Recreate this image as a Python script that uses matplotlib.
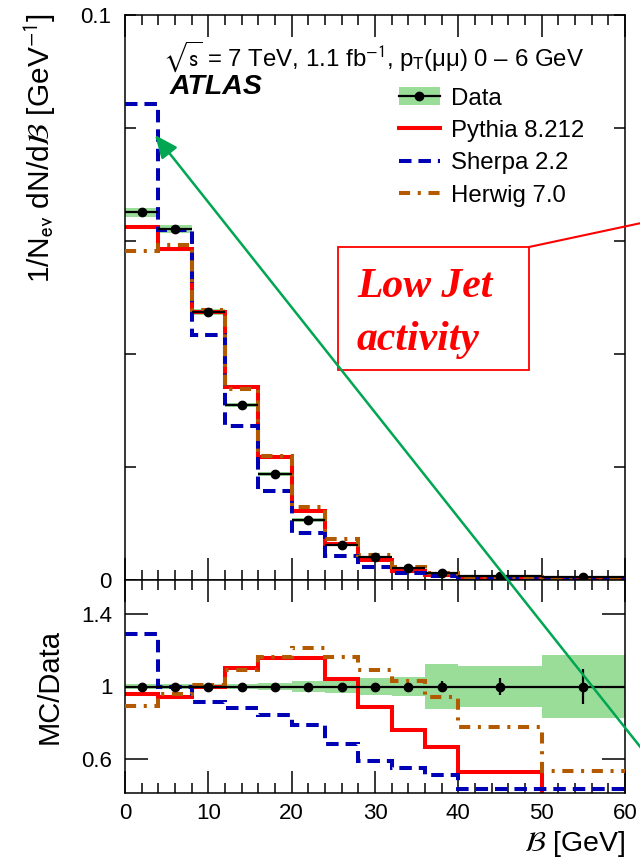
import matplotlib
matplotlib.use('Agg')
import matplotlib.pyplot as plt
from matplotlib.patches import Patch, Rectangle, FancyArrowPatch
from matplotlib.lines import Line2D
import numpy as np

# bin edges and normalised data (1/Nev dN/dB)
edges = [0, 4, 8, 12, 16, 20, 24, 28, 32, 36, 40, 50, 60]
data = [0.0651, 0.0621, 0.0474, 0.0310, 0.0188, 0.0106, 0.0062,
        0.0040, 0.0022, 0.0013, 0.0007, 0.0005]
# relative uncertainties of data (total band, stat bar)
band_rel = [0.012, 0.012, 0.012, 0.012, 0.018, 0.029, 0.036,
            0.045, 0.052, 0.123, 0.111, 0.176]
stat_rel = [0.004, 0.004, 0.005, 0.006, 0.008, 0.010, 0.013,
            0.017, 0.022, 0.030, 0.045, 0.097]
# MC / Data ratios
pythia_ratio = [0.959, 0.943, 1.000, 1.104, 1.159, 1.159, 1.039,
                0.887, 0.757, 0.665, 0.524, 0.300]
sherpa_ratio = [1.293, 0.998, 0.915, 0.880, 0.840, 0.785, 0.683,
                0.585, 0.548, 0.511, 0.430, 0.430]
herwig_ratio = [0.894, 0.956, 1.007, 1.091, 1.165, 1.215, 1.165,
                1.091, 1.030, 0.943, 0.776, 0.530]

labels = ['Data', 'Pythia 8.212', 'Sherpa 2.2', 'Herwig 7.0']

plt.rcParams['font.family'] = ['Liberation Sans', 'DejaVu Sans']
plt.rcParams['mathtext.fontset'] = 'stixsans'
plt.rcParams['lines.scale_dashes'] = False

W, H = 640, 859
def fx(x):
    return x / W
def fy(y):
    return 1 - y / H

edges = np.array(edges, dtype=float)
data = np.array(data)
band_rel = np.array(band_rel)
stat_rel = np.array(stat_rel)
centers = 0.5 * (edges[1:] + edges[:-1])
halfw = 0.5 * (edges[1:] - edges[:-1])

green = '#99dd99'
styles = [
    (np.array(pythia_ratio), dict(color='#ff0000', lw=2.9, ls='-')),
    (np.array(sherpa_ratio), dict(color='#0000b4', lw=2.9, ls=(0, (9, 5)))),
    (np.array(herwig_ratio), dict(color='#b35a00', lw=2.9, ls=(0, (8, 5.5, 2.2, 5.5)))),
]

fig = plt.figure(figsize=(6.4, 8.59), dpi=100)
ax = fig.add_axes([fx(125), fy(580), 500 / W, 565 / H])
rx = fig.add_axes([fx(125), fy(793), 500 / W, 213 / H])

# upper panel
ax.stairs(data * (1 + band_rel), edges, baseline=data * (1 - band_rel),
          fill=True, color=green, lw=0, zorder=1)
for i, (ratio, st) in enumerate(styles):
    ax.stairs(ratio * data, edges, baseline=None, zorder=2 + i, **st)
ax.errorbar(centers, data, xerr=halfw, yerr=stat_rel * data, fmt='o',
            color='black', ms=6, lw=1.6, capsize=0, zorder=6)

# ratio panel
rx.stairs(1 + band_rel, edges, baseline=1 - band_rel, fill=True,
          color=green, lw=0, zorder=1)
for i, (ratio, st) in enumerate(styles):
    rx.stairs(ratio, edges, baseline=None, zorder=2 + i, **st)
rx.errorbar(centers, np.ones_like(data), xerr=halfw, yerr=stat_rel,
            fmt='o', color='black', ms=6, lw=1.6, capsize=0, zorder=6)

for a in (ax, rx):
    a.set_xlim(0, 60)
    a.set_xticks(range(0, 61, 10))
    a.set_xticks(range(0, 61, 2), minor=True)
    a.tick_params(axis='both', which='both', direction='in', top=True, right=True)
    a.tick_params(axis='x', which='major', length=16, width=1.1)
    a.tick_params(axis='x', which='minor', length=7, width=1.1)
    for s in a.spines.values():
        s.set_linewidth(1.1)

ax.set_ylim(0, 0.1)
ax.set_yticks([0, 0.1])
ax.set_yticklabels(['0', '0.1'])
ax.set_yticks(np.arange(0.02, 0.1, 0.02), minor=True)
ax.tick_params(axis='y', which='both', length=8, width=1.1, labelsize=16, pad=10)
ax.tick_params(axis='x', labelbottom=False)

rx.set_ylim(0.41, 1.59)
rx.set_yticks([0.6, 1.0, 1.4])
rx.set_yticklabels(['0.6', '1', '1.4'])
rx.tick_params(axis='y', length=16.5, width=1.1, labelsize=16, pad=9)
rx.tick_params(axis='x', labelsize=16, pad=7)

# axis titles
fig.text(fx(58), fy(13), r'1/N$_{\mathrm{ev}}$ dN/d$\mathcal{B}$ [GeV$^{-1}$]',
         rotation=90, ha='right', va='top', fontsize=21.5)
fig.text(fx(64), fy(687), 'MC/Data', rotation=90, ha='right', va='center',
         fontsize=21)
fig.text(fx(625), fy(859), r'$\mathcal{B}$ [GeV]', ha='right', va='bottom',
         fontsize=20.5)

# labels
fig.text(fx(163), fy(57),
         r'$\sqrt{\mathrm{s}}$ = 7 TeV, 1.1 fb$^{-1}$, p$_{\mathrm{T}}$(μμ) 0 – 6 GeV',
         va='center', fontsize=17.3)
fig.text(fx(170), fy(87), 'ATLAS', fontsize=20.5, weight='bold', style='italic',
         va='center')

handles = [(Patch(facecolor=green, lw=0),
            Line2D([], [], color='black', lw=1.6, marker='o', ms=6))]
for ratio, st in styles:
    handles.append(Line2D([], [], **st))
ax.legend(handles, labels, loc='upper left', bbox_to_anchor=(fx(399), fy(87)),
          bbox_transform=fig.transFigure, frameon=False, fontsize=17.3,
          handlelength=1.7, handletextpad=0.45, labelspacing=0.41,
          borderpad=0, borderaxespad=0, handleheight=0.8)

# annotation box
fig.add_artist(Rectangle((fx(338), fy(370)), 191 / W, 123 / H,
                         transform=fig.transFigure, fill=False,
                         ec='#ff0000', lw=1.3))
fig.text(fx(357), fy(297), 'Low Jet', family='Liberation Serif', weight='bold',
         style='italic', color='#ff0000', fontsize=30, va='baseline')
fig.text(fx(357), fy(350), 'activity', family='Liberation Serif', weight='bold',
         style='italic', color='#ff0000', fontsize=30, va='baseline')
fig.add_artist(Line2D([fx(529), fx(660)], [fy(247), fy(219)],
                      transform=fig.transFigure, color='#ff0000', lw=1.5))
fig.add_artist(FancyArrowPatch((fx(680), fy(797)), (fx(155), fy(135)),
                               transform=fig.transFigure,
                               arrowstyle='-|>,head_length=0.7,head_width=0.3',
                               mutation_scale=20, color='#00a651', lw=1.8,
                               shrinkA=0, shrinkB=0))

fig.savefig('out.png', dpi=100)
